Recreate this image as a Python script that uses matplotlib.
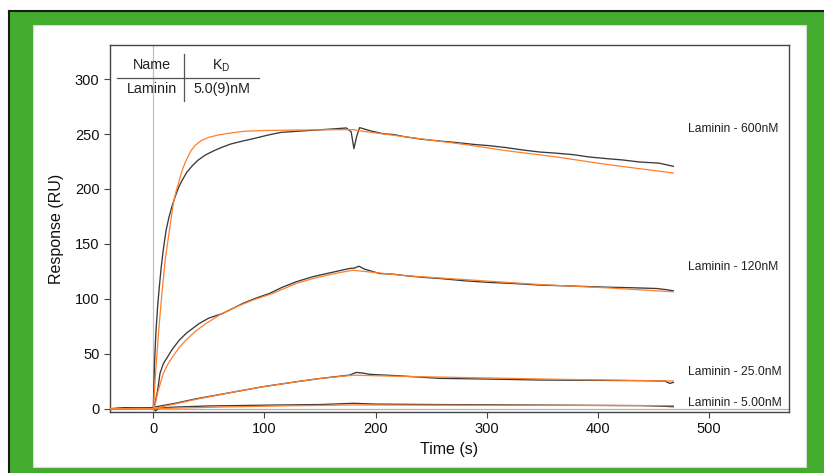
import matplotlib.pyplot as plt
from matplotlib.patches import Rectangle
from matplotlib.lines import Line2D

plt.rcParams['font.family'] = ['Liberation Sans', 'DejaVu Sans']
plt.rcParams['mathtext.fontset'] = 'custom'
plt.rcParams['mathtext.rm'] = 'Liberation Sans'
plt.rcParams['mathtext.it'] = 'Liberation Sans'

# measured sensorgrams (black) and fitted curves (orange), time in s, response in RU
t_600 = [-39, -25, -15, -5, 0, 1, 2.4, 4, 5.5, 7, 9, 11.4, 14, 17, 20, 23, 26, 30, 35, 40, 47,
         55, 62, 70, 80, 91, 103, 115, 130, 145, 160, 173.6, 178, 180.5, 183, 185.6, 195, 206.5,
         216, 227.6, 242, 257.7, 272, 287.7, 302, 317.7, 332, 347.7, 362, 377.8, 392, 407.8,
         422, 437.8, 455, 467.9]
r_600 = [0, 1, 0.5, 0.5, 1, 40, 71, 95, 112, 128, 145, 162, 174, 185, 194, 202, 208, 215, 221,
         226, 231, 235, 238, 241, 243.5, 246, 249, 251.5, 252.5, 253.5, 254.5, 255.5, 252, 236.7,
         248, 255.8, 253, 250.3, 249.5, 247.3, 245.2, 243.6, 242.3, 240.6, 239.4, 237.6, 235.5,
         233.6, 232.6, 231.2, 229.1, 227.6, 226.4, 224.5, 223.5, 220.6]
tf_600 = [-39, 0, 2, 4.8, 8, 11, 14.4, 18, 20.5, 23.4, 26, 29, 31.5, 34, 38, 43, 50, 58, 70, 82,
          100, 120, 150, 180, 185.6, 230, 280, 317.7, 360, 410, 467.9]
rf_600 = [0, 0, 32, 71, 108, 138, 162, 187, 198, 208, 217, 225, 230, 235, 240, 244, 247, 249,
          251, 252.5, 253.2, 253.5, 253.8, 254, 252.9, 247, 240.5, 234.8, 229.5, 222, 214.5]

t_120 = [-39, -20, 0, 1.5, 3.9, 6, 9, 12.9, 17, 23.4, 30, 41.4, 50, 62.4, 80.5, 92, 104.5, 116,
         128.5, 143, 158.6, 176.6, 181, 185, 190, 194.6, 203.6, 215, 227.6, 242, 257.7, 280,
         302.7, 325, 347.7, 378, 407.8, 430, 452.8, 462, 467.9]
r_120 = [0, 0.5, 0.5, 5, 17, 32.2, 41, 47.3, 54, 62.5, 69, 77.6, 82.5, 86.7, 95.8, 100.5, 104.9,
         110.5, 115.5, 120, 123.6, 127.6, 128, 129.7, 127, 125.7, 123, 122.5, 121, 119.6, 118.5,
         116.4, 114.9, 113.9, 112.5, 111.6, 110.6, 110.1, 109.4, 108.3, 107.3]
tf_120 = [-39, 0, 1, 4, 9, 13, 17.4, 23, 29.4, 38, 47.5, 60, 74.5, 90, 107.5, 128.5, 145, 158.6,
          170, 179.6, 227.6, 287.7, 347.7, 407.8, 467.9]
rf_120 = [0, 0, 1, 15, 32.2, 40.5, 47.3, 55.3, 62.5, 70.6, 77.6, 85.6, 92.7, 99, 104.9, 114,
          118.8, 122, 124.3, 126, 121, 117, 113, 110, 106.4]

t_25 = [-39, 0, 1, 20, 38.4, 68.5, 98.5, 128.5, 150, 176.6, 182.6, 188, 194.6, 220, 257.7, 300,
        347.7, 400, 440, 460, 464.9, 467.9]
r_25 = [0, 0.5, 1.5, 5, 9, 14.5, 20, 24.5, 27.5, 30.6, 33, 32.5, 31.3, 30, 27.6, 27, 26.1, 25.8,
        25.5, 25.2, 23, 24]
tf_25 = [-39, 0, 38.4, 68.5, 98.5, 128.5, 150, 179.6, 220, 300, 380, 467.9]
rf_25 = [0, 0, 8.5, 14.5, 20, 24.5, 27.5, 30.5, 29.5, 28, 26.5, 25.2]

t_5 = [-39, 0, 2, 5, 20, 50, 100, 150, 180, 200, 250, 300, 350, 400, 440, 460, 467.9]
r_5 = [0, 0.5, -2, 0.5, 1.5, 2.5, 3.2, 3.8, 4.9, 4.2, 3.8, 3.6, 3.3, 3.0, 2.8, 2.2, 1.8]
tf_5 = [-39, 0, 60, 120, 180, 260, 360, 467.9]
rf_5 = [0, 0, 1.5, 2.6, 3.4, 3.2, 3.0, 2.8]

labels = ['Laminin - 600nM', 'Laminin - 120nM', 'Laminin - 25.0nM', 'Laminin - 5.00nM']
label_y = [255, 129, 33.4, 5.2]

fig = plt.figure(figsize=(8.24, 4.73), dpi=100)
W, H = 824, 473

# green frame with white panel
fig.patches.append(Rectangle((9 / W, 0), (W - 9) / W, (H - 11) / H, transform=fig.transFigure,
                             facecolor='#43ab2d', edgecolor='none', zorder=0))
fig.lines.append(Line2D([9 / W, 1], [(H - 11) / H] * 2, transform=fig.transFigure,
                        color='#1a1a1a', lw=1.5))
fig.lines.append(Line2D([9 / W] * 2, [0, (H - 11) / H], transform=fig.transFigure,
                        color='#1a1a1a', lw=1.5))
fig.patches.append(Rectangle((33 / W, 6 / H), (806 - 33) / W, (467 - 25) / H,
                             transform=fig.transFigure, facecolor='white',
                             edgecolor='#d8d8d8', lw=0.8, zorder=1))

ax = fig.add_axes([110 / W, (H - 412) / H, (789 - 110) / W, (412 - 45) / H])
ax.set_zorder(2)

ax.axvline(0, color='#c0c0c0', lw=0.9, zorder=1)
ax.axhline(0, color='#b0b0b0', lw=0.9, zorder=1)

black = '#3a3a3a'
orange = '#ff7f2a'
for t, r, tf, rf in [(t_600, r_600, tf_600, rf_600), (t_120, r_120, tf_120, rf_120),
                     (t_25, r_25, tf_25, rf_25), (t_5, r_5, tf_5, rf_5)]:
    ax.plot(t, r, color=black, lw=0.95, zorder=3)
    ax.plot(tf, rf, color=orange, lw=0.9, zorder=4)

for lab, y in zip(labels, label_y):
    ax.text(481, y, lab, fontsize=8.7, color='#222222', va='center', ha='left', zorder=5)

# KD table
ax.text(-0.9, 312.5, 'Name', fontsize=10.3, ha='center', va='center', color='#222222')
ax.text(61.3, 312.5, r'K$_\mathrm{D}$', fontsize=10.3, ha='center', va='center', color='#222222')
ax.text(-0.9, 290.6, 'Laminin', fontsize=10.3, ha='center', va='center', color='#222222')
ax.text(61.3, 290.6, '5.0(9)nM', fontsize=10.3, ha='center', va='center', color='#222222')
ax.plot([-32.4, 95.5], [300.6, 300.6], color='#555555', lw=0.9)
ax.plot([27.9, 27.9], [279.7, 322.5], color='#555555', lw=0.9)

ax.set_xlim(-39, 572)
ax.set_ylim(-3, 331)
ax.set_xticks([0, 100, 200, 300, 400, 500])
ax.set_yticks([0, 50, 100, 150, 200, 250, 300])
ax.tick_params(direction='out', length=4, width=0.8, colors='#444444', labelcolor='#111111',
               labelsize=10.5)
for s in ax.spines.values():
    s.set_color('#444444')
    s.set_linewidth(1.0)
ax.set_xlabel('Time (s)', fontsize=11.5, color='#111111', labelpad=4)
ax.set_ylabel('Response (RU)', fontsize=11.5, color='#111111', labelpad=8)

fig.savefig('out.png', dpi=100)
